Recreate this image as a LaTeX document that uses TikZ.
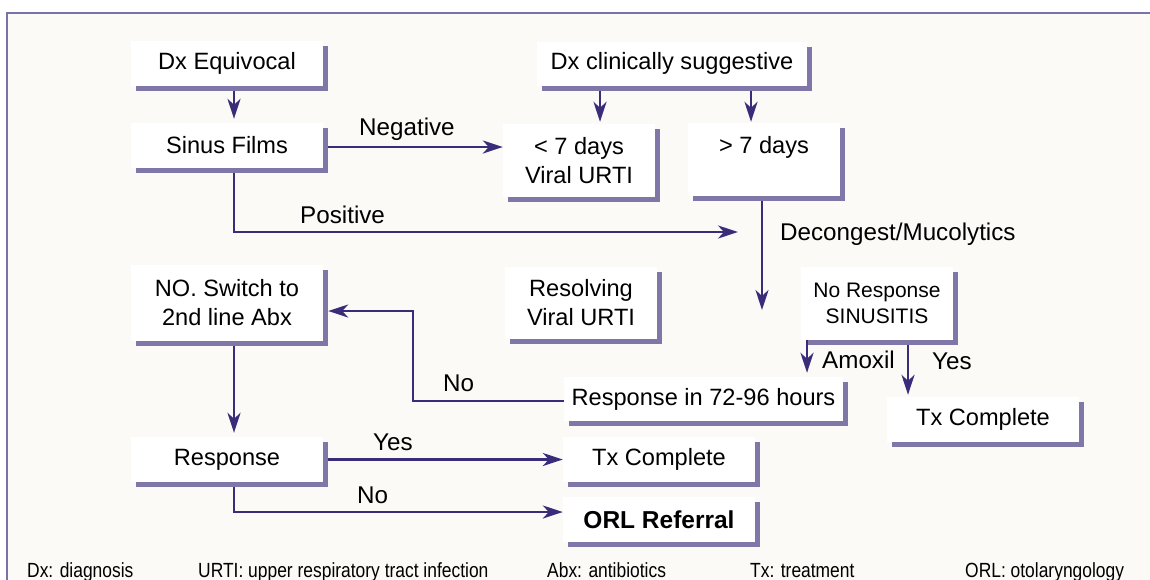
\documentclass[tikz,border=0pt]{standalone}
\usepackage{fontspec}
\setmainfont{Liberation Sans}
\newfontfamily\footfont[FakeStretch=0.85]{Liberation Sans}
\usetikzlibrary{shadows,arrows.meta}
\definecolor{bgc}{HTML}{FBFAF6}
\definecolor{framec}{HTML}{7A72A8}
\definecolor{shc}{HTML}{8077A9}
\definecolor{linec}{HTML}{392D7A}
\newcommand{\mfs}{\fontsize{23.6}{29}\selectfont}
\newcommand{\lfs}{\fontsize{24.2}{29}\selectfont}
\newcommand{\sfs}{\fontsize{21}{26}\selectfont}
\newcommand{\ffs}{\fontsize{20.5}{22}\footfont}
\begin{document}
\begin{tikzpicture}[x=1pt,y=-1pt,
  box/.style={fill=white,inner sep=0pt,align=center,font=\mfs,
    general shadow={fill=shc,shadow xshift=5pt,shadow yshift=-5pt}},
  conn/.style={draw=linec,line width=2.5pt,-{Stealth[length=20pt,width=13pt,inset=6pt]}},
  lbl/.style={anchor=base west,inner sep=0pt,font=\lfs},
  foot/.style={anchor=base west,inner sep=0pt,font=\ffs}]
\useasboundingbox (0,0) rectangle (1150,579);
\clip (0,0) rectangle (1150,579);
\fill[white] (0,0) rectangle (1150,579);
\draw[framec,fill=bgc,line width=1.4pt] (7,13) rectangle (1170,600);

% boxes
\node[box,minimum width=192pt,minimum height=45pt] (dxeq) at (227,63.5) {Dx Equivocal};
\node[box,minimum width=192pt,minimum height=45pt] (sinus) at (227,145.5) {Sinus Films};
\node[box,minimum width=270pt,minimum height=44pt] (dxcs) at (672,63.5) {Dx clinically suggestive};
\node[box,minimum width=152pt,minimum height=73pt] (lt7) at (579,160.5) {< 7 days\\Viral URTI};
\node[box,minimum width=152pt,minimum height=73pt] (gt7) at (764,159.5) {> 7 days\\\phantom{Viral URTI}};
\node[box,minimum width=192pt,minimum height=76pt] (noswitch) at (227,303) {NO. Switch to\\2nd line Abx};
\node[box,minimum width=152pt,minimum height=72pt] (resolv) at (581,303) {Resolving\\Viral URTI};
\node[box,minimum width=152pt,minimum height=73pt,font=\sfs] (noresp) at (877,303.5) {No Response\\SINUSITIS};
\node[box,minimum width=279pt,minimum height=44pt] (resp72) at (703.5,399) {Response in 72-96 hours};
\node[box,minimum width=192pt,minimum height=45pt] (txR) at (983,419.5) {Tx Complete};
\node[box,minimum width=192pt,minimum height=45pt] (response) at (227,459.5) {Response};
\node[box,minimum width=192pt,minimum height=45pt] (txM) at (659,459.5) {Tx Complete};
\node[box,minimum width=192pt,minimum height=45pt,font=\fontsize{24.5}{29}\selectfont\bfseries] (orl) at (659,519.5) {ORL Referral};

\coordinate (posend) at (738,232);
\coordinate (decend) at (762,310);

% connectors
\draw[conn] ([xshift=7pt,yshift=-5pt]dxeq.south) -- ([xshift=7pt,yshift=4pt]sinus.north);
\draw[conn] ([xshift=5pt,yshift=-1.5pt]sinus.east) -- ([yshift=-1.5pt]sinus.east -| lt7.west);
\draw[conn] ([xshift=-72pt,yshift=-5pt]dxcs.south) -- ([xshift=21pt,yshift=2pt]lt7.north);
\draw[conn] ([xshift=79pt,yshift=-5pt]dxcs.south) -- ([xshift=-13pt,yshift=1pt]gt7.north);
\draw[conn] ([xshift=7pt,yshift=-5pt]sinus.south) |- (posend);
\draw[conn] ([xshift=-2pt,yshift=-5pt]gt7.south) -- (decend);
\draw[conn] ([xshift=-70pt]noresp.south) -- ([xshift=103.5pt,yshift=4pt]resp72.north);
\draw[conn] ([xshift=31pt,yshift=-5pt]noresp.south) -- ([xshift=-75pt,yshift=2pt]txR.north);
\draw[conn] ([yshift=-2pt]resp72.west) -| ([xshift=90pt,yshift=-8pt]noswitch.east) -- ([xshift=5pt,yshift=-8pt]noswitch.east);
\draw[conn] ([xshift=7pt,yshift=-5pt]noswitch.south) -- ([xshift=7pt,yshift=4pt]response.north);
\draw[conn] ([xshift=5pt]response.east) -- (txM.west);
\draw[conn] ([xshift=7pt,yshift=-5pt]response.south) |- ([yshift=7.5pt]orl.west);

% labels
\node[lbl] (lneg) at (359,135) {Negative};
\node[lbl] (lpos) at (300,223) {Positive};
\node[lbl] (ldec) at (780,240) {Decongest/Mucolytics};
\node[lbl] (lamox) at (822,368) {Amoxil};
\node[lbl] (lyesr) at (932,369) {Yes};
\node[lbl] (lnou) at (443,391) {No};
\node[lbl] (lyesl) at (373,450) {Yes};
\node[lbl] (lnol) at (357,503) {No};

% footer
\node[foot] (f1) at (27,577) {Dx: diagnosis};
\node[foot] (f2) at (198,577) {URTI: upper respiratory tract infection};
\node[foot] (f3) at (547,577) {Abx: antibiotics};
\node[foot] (f4) at (750,577) {Tx: treatment};
\node[foot] (f5) at (965,577) {ORL: otolaryngology};
\end{tikzpicture}
\end{document}
